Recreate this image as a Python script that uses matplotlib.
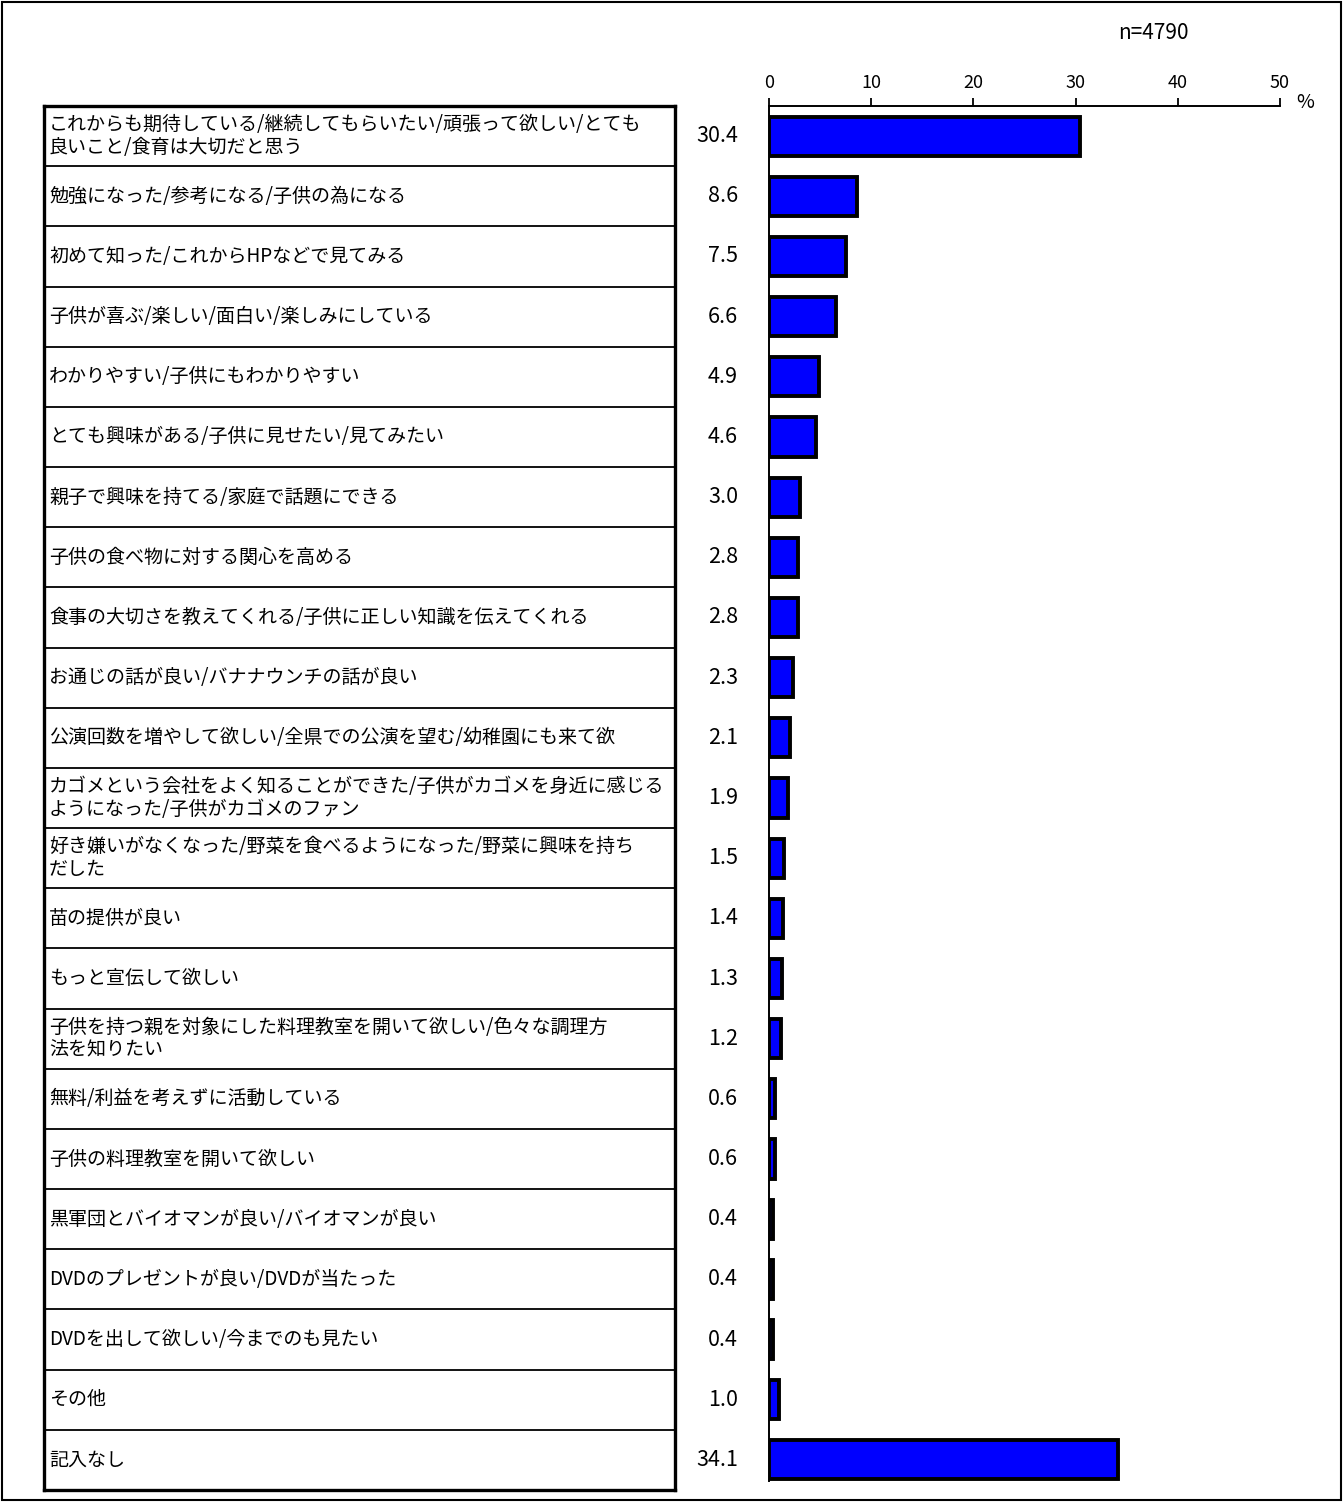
import matplotlib.pyplot as plt
from matplotlib.patches import Rectangle
from matplotlib.transforms import blended_transform_factory

plt.rcParams['font.family'] = ['Noto Sans CJK JP', 'DejaVu Sans']

# data
labels = [
    "これからも期待している/継続してもらいたい/頑張って欲しい/とても\n良いこと/食育は大切だと思う",
    "勉強になった/参考になる/子供の為になる",
    "初めて知った/これからHPなどで見てみる",
    "子供が喜ぶ/楽しい/面白い/楽しみにしている",
    "わかりやすい/子供にもわかりやすい",
    "とても興味がある/子供に見せたい/見てみたい",
    "親子で興味を持てる/家庭で話題にできる",
    "子供の食べ物に対する関心を高める",
    "食事の大切さを教えてくれる/子供に正しい知識を伝えてくれる",
    "お通じの話が良い/バナナウンチの話が良い",
    "公演回数を増やして欲しい/全県での公演を望む/幼稚園にも来て欲",
    "カゴメという会社をよく知ることができた/子供がカゴメを身近に感じる\nようになった/子供がカゴメのファン",
    "好き嫌いがなくなった/野菜を食べるようになった/野菜に興味を持ち\nだした",
    "苗の提供が良い",
    "もっと宣伝して欲しい",
    "子供を持つ親を対象にした料理教室を開いて欲しい/色々な調理方\n法を知りたい",
    "無料/利益を考えずに活動している",
    "子供の料理教室を開いて欲しい",
    "黒軍団とバイオマンが良い/バイオマンが良い",
    "DVDのプレゼントが良い/DVDが当たった",
    "DVDを出して欲しい/今までのも見たい",
    "その他",
    "記入なし",
]
values = [30.4, 8.6, 7.5, 6.6, 4.9, 4.6, 3.0, 2.8, 2.8, 2.3, 2.1, 1.9, 1.5,
          1.4, 1.3, 1.2, 0.6, 0.6, 0.4, 0.4, 0.4, 1.0, 34.1]
x_ticks = [0, 10, 20, 30, 40, 50]
sample_note = "n=4790"

W, H = 1343, 1502
fig = plt.figure(figsize=(W / 100, H / 100), dpi=100)


def fig_rect(x0, y0, x1, y1):
    # pixel box (top-left origin) -> figure fraction [l, b, w, h]
    return [x0 / W, 1 - y1 / H, (x1 - x0) / W, (y1 - y0) / H]


n = len(values)
ypos = list(range(n))
top_px, bot_px = 106, 1490

# outer frame
fig.patches.append(Rectangle((2 / W, 2 / H), (W - 4) / W, (H - 4) / H,
                             transform=fig.transFigure, fill=False,
                             edgecolor='black', linewidth=1.5))

# label table
tab = fig.add_axes(fig_rect(44, top_px, 675, bot_px))
tab.set_xlim(0, 1)
tab.set_ylim(n - 0.5, -0.5)
tab.set_xticks([])
tab.set_yticks([])
for s in tab.spines.values():
    s.set_linewidth(2.4)
for i in range(1, n):
    tab.axhline(i - 0.5, color='black', linewidth=1.3)
for i, lab in enumerate(labels):
    tab.text(5 / 631, i, lab, ha='left', va='center', fontsize=13.7,
             linespacing=1.1, clip_on=True)

# bar chart
ax = fig.add_axes(fig_rect(769, top_px, 1280, bot_px))
ax.barh(ypos, values, height=0.65, color='#0000FF', edgecolor='black',
        linewidth=2.8)
ax.set_xlim(0, 50)
ax.set_ylim(n - 0.5, -0.5)
ax.set_xticks(x_ticks)
ax.xaxis.tick_top()
ax.tick_params(axis='x', direction='out', length=6, width=1.3,
               labelsize=13, pad=4)
ax.set_yticks([])
for side in ['right', 'bottom']:
    ax.spines[side].set_visible(False)
ax.spines['top'].set_linewidth(1.4)
ax.spines['left'].set_linewidth(1.4)
ax.spines['left'].set_bounds(n - 0.65, -0.5)

# value labels next to the bars
trans = blended_transform_factory(fig.transFigure, ax.transData)
for i, v in enumerate(values):
    ax.text(738 / W, i, f"{v:.1f}", transform=trans, ha='right',
            va='center', fontsize=15.5, clip_on=False)

fig.text(1305 / W, 1 - 103 / H, "%", ha='center', va='center', fontsize=14)
fig.text(1153 / W, 1 - 33 / H, sample_note, ha='center', va='center',
         fontsize=15)

fig.savefig('out.png', dpi=100, facecolor='white')
